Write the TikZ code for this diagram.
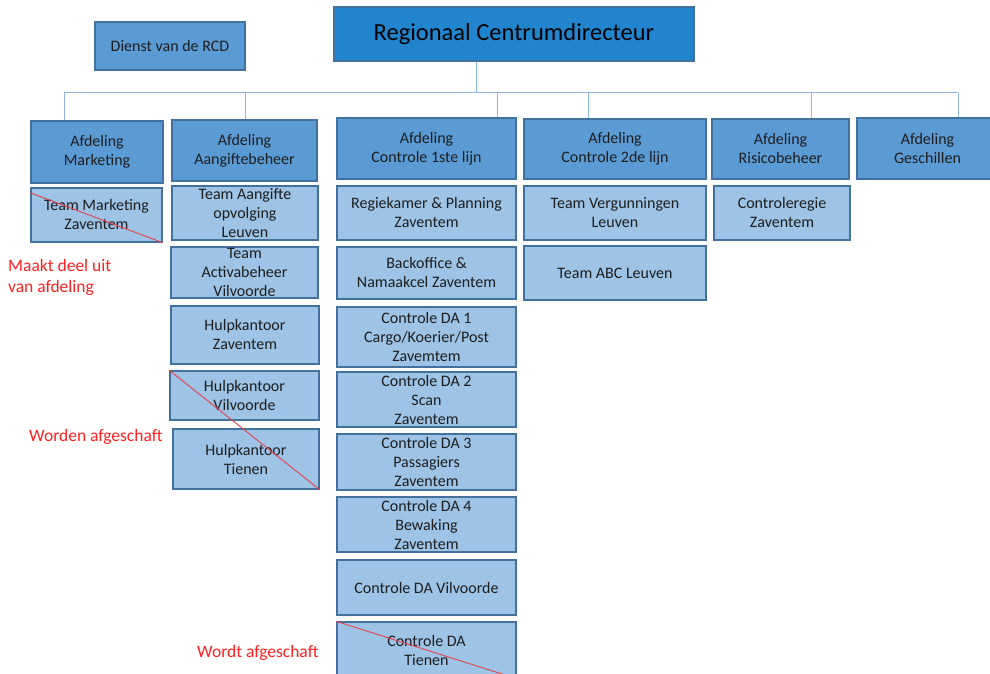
\documentclass[tikz,border=0pt]{standalone}
\usepackage{fontspec}
\setmainfont{Carlito}
\usetikzlibrary{calc}
\definecolor{deptfill}{HTML}{5B9BD5}
\definecolor{teamfill}{HTML}{9DC3E6}
\definecolor{topfill}{HTML}{2084CE}
\definecolor{boxedge}{HTML}{41719C}
\definecolor{linkblue}{HTML}{8DB6E2}
\definecolor{notered}{HTML}{FF2020}
\definecolor{strikered}{HTML}{E8404A}
\definecolor{ink}{HTML}{1E1E1E}

% box from corner (x1,y1) to (x2,y2): style, name, x1, y1, x2, y2, text
\newcommand\orgbox[7]{%
  \node[#1, minimum width={#5-#3}, minimum height={#6-#4}] (#2)
    at ({(#3+#5)/2},{(#4+#6)/2}) {#7};}

\tikzset{
  basebox/.style={draw=boxedge, line width=1.3pt, inner sep=0pt, align=center,
    text=ink, font=\fontsize{16}{19}\selectfont},
  deptbox/.style={basebox, fill=deptfill},
  teambox/.style={basebox, fill=teamfill},
  headbox/.style={basebox, fill=topfill, text=black, font=\fontsize{24.5}{28}\selectfont},
  link/.style={draw=linkblue, line width=1pt},
  strike/.style={draw=strikered, line width=0.9pt},
  remark/.style={text=notered, anchor=base west, inner sep=0pt, align=left,
    font=\fontsize{17.5}{21}\selectfont},
}

\begin{document}
\begin{tikzpicture}[x=1pt, y=-1pt]
\useasboundingbox (0,0) rectangle (990,674);

% top level
\orgbox{headbox}{rcd}{334}{7}{694}{61}{Regionaal Centrumdirecteur}
\orgbox{deptbox}{dienst}{95}{22}{245}{70}{Dienst van de RCD}

% departments
\orgbox{deptbox}{dmark}{31}{121}{163}{183}{Afdeling\\Marketing}
\orgbox{deptbox}{daang}{172}{120}{317}{181}{Afdeling\\Aangiftebeheer}
\orgbox{deptbox}{dc1}{337}{118}{516}{179}{Afdeling\\Controle 1ste lijn}
\orgbox{deptbox}{dc2}{524}{119}{706}{179}{Afdeling\\Controle 2de lijn}
\orgbox{deptbox}{drisk}{712}{119}{849}{179}{Afdeling\\Risicobeheer}
\orgbox{deptbox}{dgesch}{857}{118}{998}{179}{Afdeling\\Geschillen}

% connectors
\coordinate (tap) at (476,93);
\coordinate (busL) at (64,93);
\coordinate (busR) at (958,93);
\coordinate (j1) at (64,93);
\coordinate (j2) at (245,93);
\coordinate (j3) at (497,93);
\coordinate (j4) at (588,93);
\coordinate (j5) at (811,93);
\coordinate (j6) at (958,93);
\draw[link] (tap |- rcd.south) -- (tap);
\draw[link] (busL) -- (busR);
\draw[link] (j1) -- (j1 |- dmark.north);
\draw[link] (j2) -- (j2 |- daang.north);
\draw[link] (j3) -- (j3 |- dc1.north);
\draw[link] (j4) -- (j4 |- dc2.north);
\draw[link] (j5) -- (j5 |- drisk.north);
\draw[link] (j6) -- (j6 |- dgesch.north);

% Marketing
\orgbox{teambox}{tmark}{31}{188}{162}{242}{Team Marketing\\Zaventem}

% Aangiftebeheer
\orgbox{teambox}{tao}{172}{186}{318}{240}{Team Aangifte\\opvolging\\Leuven}
\orgbox{teambox}{tact}{171}{247}{318}{298}{Team\\Activabeheer\\Vilvoorde}
\orgbox{teambox}{hkz}{171}{306}{319}{364}{Hulpkantoor\\Zaventem}
\orgbox{teambox}{hkv}{170}{371}{319}{420}{Hulpkantoor\\Vilvoorde}
\orgbox{teambox}{hkt}{173}{429}{319}{489}{Hulpkantoor\\Tienen}

% Controle 1ste lijn
\orgbox{teambox}{regie}{337}{186}{516}{240}{Regiekamer \& Planning\\Zaventem}
\orgbox{teambox}{back}{337}{247}{516}{299}{Backoffice \&\\Namaakcel Zaventem}
\orgbox{teambox}{da1}{337}{307}{516}{367}{Controle DA 1\\Cargo/Koerier/Post\\Zavemtem}
\orgbox{teambox}{da2}{337}{372}{516}{427}{Controle DA 2\\Scan\\Zaventem}
\orgbox{teambox}{da3}{337}{434}{516}{490}{Controle DA 3\\Passagiers\\Zaventem}
\orgbox{teambox}{da4}{337}{497}{516}{552}{Controle DA 4\\Bewaking\\Zaventem}
\orgbox{teambox}{dav}{337}{560}{516}{615}{Controle DA Vilvoorde}
\orgbox{teambox}{dat}{337}{622}{516}{678}{Controle DA\\Tienen}

% Controle 2de lijn
\orgbox{teambox}{verg}{524}{186}{706}{240}{Team Vergunningen\\Leuven}
\orgbox{teambox}{abc}{524}{246}{706}{300}{Team ABC Leuven}

% Risicobeheer
\orgbox{teambox}{cregie}{714}{186}{850}{240}{Controleregie\\Zaventem}

% strike-through marks
\draw[strike] ($(tmark.north west)!0.1!(tmark.south west)$) -- (tmark.south east);
\draw[strike] (hkv.north west) -- (hkt.south east);
\draw[strike] (dat.north west) -- (dat.south east);

% remarks
\node[remark] (rm1) at (8,292) {Maakt deel uit\\van afdeling};
\node[remark] (rm2) at (29,441) {Worden afgeschaft};
\node[remark] (rm3) at (197,657) {Wordt afgeschaft};
\end{tikzpicture}
\end{document}
